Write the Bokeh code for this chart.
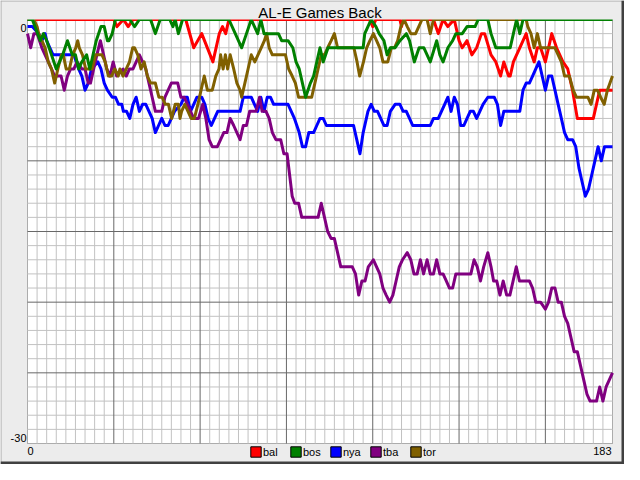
import numpy as np
from bokeh.plotting import figure
from bokeh.models import Range1d, Label, Legend, LegendItem, BoxAnnotation
from bokeh.embed import file_html
from bokeh.resources import INLINE

# ---------------- data (games back) ----------------
teams = ["bal", "bos", "nya", "tba", "tor"]
colors = ["#ff0000", "#008000", "#0000ff", "#800080", "#806000"]
x_start, x_end = 0, 183
y_low, y_high = -30, 0
title_text = "AL-E Games Back"

bal_x = [0, 27, 28, 30, 31.5, 33, 49.5, 52, 54.5, 58, 60, 61, 62, 63, 107, 108, 109, 116.5, 117, 117.5,
         127, 128.5, 130, 131.5, 133.5, 135, 136, 137.5, 139, 140.5, 142, 143, 145, 146.5, 148, 149, 150.5,
         151, 152, 154, 156, 157, 158.5, 159.5, 160.5, 162, 164, 165.5, 167.5, 169, 170.5, 172, 177, 179, 183]
bal_gb = [0, 0, 0.5, 0, 0.5, 0, 0, 2, 1, 3, 1, 0.5, 1, 0, 0, 0.5, 0, 0, 0.5, 0,
          0, 1, 0, 0.5, 0, 1.5, 2, 1.5, 2.5, 2, 1, 1, 2.5, 3, 4, 3, 4,
          4, 3, 2, 1, 2, 3, 2, 2, 3, 1, 2, 3, 3.5, 5, 7, 7, 5, 5]

bos_x = [0, 1.5, 4, 5, 6, 7.5, 9, 10, 11, 12.5, 14, 15, 16, 17, 18.5, 19.5, 20.5, 21.5, 23, 24,
         25, 25.5, 26.5, 27.5, 32, 33.5, 35, 38.5, 40, 41.5, 44.5, 45.5, 46.2, 47.2, 48.5, 63, 65, 67, 68.5, 70,
         71, 72, 73, 74, 75.5, 78.5, 79.5, 81.5, 83, 84, 85, 86, 87, 88.5, 89.5, 90.5, 91.5, 92.5, 94, 105,
         105.5, 106.5, 107.5, 109, 110, 111.5, 112.5, 113.5, 115, 116.5, 118.5, 119.5, 121, 122.5, 124,
         126, 128, 129, 130, 131.5, 133, 134, 136, 137.5, 140, 141, 144, 145, 146.5, 151, 152, 153, 154, 155, 183]
bos_gb = [0, 0, 1.5, 1, 1.5, 2.5, 3.5, 3, 2.5, 1.5, 2.5, 2.5, 3.5, 3, 2.5, 3.5, 2.5, 1.5, 0.5, 0.5,
          1.5, 1.5, 1, 0, 0, 0.5, 0, 0, 1, 0, 0, 0.5, 0, 1, 0, 0, 1, 2, 1, 0,
          0.5, 1, 0, 1, 1, 1, 1.5, 1.5, 2, 3, 3.5, 4.5, 5.5, 4.5, 4, 3, 2, 3, 2, 2,
          1, 0.5, 0, 0.5, 1, 1.5, 2.5, 2, 2, 1.5, 1, 1.5, 3, 2, 2,
          3, 1.5, 2.5, 3, 2, 1.5, 1, 1, 0.5, 0.5, 0, 0, 1, 2, 2, 1, 0, 1, 0, 0]

nya_x = [0, 1.5, 3.5, 4.5, 5.5, 6, 7, 8, 14.5, 16, 17, 18, 19, 20, 22, 23, 24, 25, 26.5, 27.5,
         28.5, 29.5, 30, 31, 32, 33, 34, 35, 36, 37, 38, 39, 40, 41, 42, 43, 44, 45, 46, 48,
         49, 50, 51, 52, 53, 54.5, 55.5, 56.5, 57.5, 58.5, 59.5, 66.5, 67.5, 70, 71, 72, 73, 74, 75, 76,
         77, 78, 81.5, 82.5, 83.5, 85, 86, 87, 88, 89.5, 90.5, 91.5, 92.5, 93.5, 94.5, 102, 103, 104, 105, 106.5,
         107.5, 108.5, 109.5, 110.5, 111.5, 112.5, 113.5, 115, 116.5, 117.5, 118.5, 119.5, 120.5, 126, 127,
         128.5, 129.5, 130.5, 131.5, 132.5, 133.5, 134.5, 135.5, 136.5, 137.5, 138.5, 139.5, 140.5, 141.5, 142.5,
         144, 146, 147, 148, 149, 154, 155, 156, 157, 158, 159, 160, 161, 162, 163, 164, 165, 166, 167, 168,
         169, 170.5, 171.5, 172.5, 173.5, 174.5, 175.5, 176.5, 177.5, 178.5, 179.5, 180.5, 181.5, 183]
nya_gb = [0.5, 0.5, 1, 1.5, 1, 1.5, 2, 2.5, 2.5, 3.5, 4, 5, 4.5, 3.5, 3, 3.5, 4.5, 5, 5.5, 5.5,
          6, 6, 6.5, 6.5, 7, 6, 5.5, 6.5, 6, 6, 6.5, 7, 8, 7.5, 7, 7.5, 7.5, 7, 6.5, 6,
          5.5, 5.5, 6.5, 6, 5.5, 5.5, 6, 7, 7.5, 7, 6.5, 6.5, 5.5, 5.5, 6, 6.5, 5.5, 6.5, 5.5, 5.5,
          6, 6, 6, 6.5, 7, 8, 9, 9, 8, 8, 7.5, 7, 7, 7.5, 7.5, 7.5, 8.5, 9.5, 8, 6.5,
          6, 6.5, 6.5, 7, 7.5, 7.5, 6.5, 6, 6, 6.5, 6.5, 7, 7.5, 7.5, 7,
          7, 6.5, 6, 5.5, 6.5, 5.5, 6, 7.5, 7.5, 7, 6.5, 6.5, 7, 6.5, 6,
          5.5, 5.5, 6, 7.5, 6.5, 6.5, 5, 4.5, 4.5, 4, 3.5, 3, 4, 5, 4, 4, 5, 6, 7, 8,
          8.5, 8.5, 9, 10.5, 11.5, 12.5, 12, 11, 10, 9, 10, 9, 9, 9]

tba_x = [0, 1, 2, 3, 4.5, 5.5, 6.5, 7.5, 8.5, 10.5, 11.5, 12.5, 13.5, 14.5, 15.5, 17, 18, 19, 19.7, 20.7,
         21.7, 22.8, 23.8, 24.8, 25.8, 26.8, 27.9, 29.9, 30.9, 31.9, 33, 34, 35, 36, 37, 38, 39, 40, 41, 42,
         43, 44, 45, 46, 47, 48, 49, 50, 51, 52, 53.5, 54.8, 55.8, 56.8, 57.8, 59.4, 60.4, 61.4, 62.4, 63.4,
         64.5, 65.5, 66.5, 67.5, 68.5, 69.5, 71.5, 72.6, 73.4, 74.6, 75.6, 76.6, 77.7, 79.2, 80.2, 81.2, 82, 82.8, 83.6, 84.8,
         85.8, 90.9, 91.9, 92.9, 93.9, 95, 96, 97, 98, 101.6, 102.6, 103.6, 104.6, 105.6, 106.6, 108.2, 109.2, 110.2, 111.2, 112.2,
         113.3, 114.3, 115.3, 116.3, 117.3, 118.8, 119.9, 120.9, 121.9, 122.9, 123.9, 125, 126, 127, 128, 129, 130, 131, 132, 133,
         134, 138.7, 139.7, 140.7, 141.7, 142.7, 144, 145, 145.8, 146.8, 147.8, 148.8, 149.9, 150.9, 151.9, 152.9, 153.9, 157, 158, 159,
         160.5, 162, 163, 164, 165, 166, 167, 168, 169, 170, 171, 172, 173, 174, 175, 176, 178, 179, 180, 181, 183]
tba_gb = [1, 2, 1, 1, 2, 2.5, 3, 3.5, 4, 4, 5, 4, 3.5, 3.5, 3, 3.5, 3.5, 4.5, 4.5, 3.5,
          2.5, 1.5, 2.5, 3.5, 4, 3, 4, 3.5, 4, 3.5, 3.5, 3, 2.5, 3, 3.5, 4.5, 5.5, 6.5, 6.5, 6.5,
          5.5, 5, 4.5, 4.5, 4.5, 5.5, 5.5, 6, 6.5, 7, 7, 6, 7, 8.5, 9, 9, 8.5, 8, 8, 7,
          7.5, 8, 8.5, 7.5, 7.5, 6.5, 6.5, 5.5, 6.5, 6.5, 7, 8, 8.5, 8.5, 9.5, 9.5, 11, 12.5, 13, 13,
          14, 14, 13, 14, 15, 15.5, 15.5, 16.5, 17.5, 17.5, 18, 19.5, 18.5, 18.5, 17.5, 17, 17.5, 18, 19, 19.5,
          20, 19.5, 18.5, 17.5, 17, 16.5, 17, 18, 18, 17, 18, 17, 18, 18, 17, 18, 18, 18.5, 19, 19,
          18, 18, 17, 17.5, 18.5, 17.5, 16.5, 17.5, 18.5, 18.5, 19.5, 18.5, 19.5, 19.5, 18.5, 17.5, 18.5, 18.5, 19, 20,
          20, 20.5, 20, 19, 19, 20, 20, 21, 21.5, 22.5, 23.5, 23.5, 24.5, 25.5, 26.5, 27, 27, 26, 27, 26, 25]

tor_x = [0, 2, 3, 3.5, 4.5, 5.5, 6.5, 7.5, 8.5, 9.5, 10.6, 11.2, 12.1, 13.1, 14.1, 15.1, 15.7, 16.2, 17.2, 18.2,
         20.2, 21.3, 23.3, 24.3, 25.3, 26.3, 27.3, 28.4, 28.9, 29.9, 30.9, 31.9, 32.9, 33.5, 34.5, 35.5, 36.5, 37.5, 38.5, 40,
         41.1, 42.1, 43.1, 44.1, 45.1, 46.2, 47.2, 47.7, 48.2, 49.2, 50.2, 51.2, 52.2, 53.3, 54.3, 55.3, 56.3, 57.8, 58.9, 59.9,
         60.4, 61.2, 61.9, 62.6, 63.4, 64.5, 65.5, 66.5, 67, 68, 69, 70, 71.1, 72.1, 73.1, 74.1, 74.8, 75.6, 76.6, 80.7,
         81.7, 82.8, 83.8, 84.8, 88.9, 89.9, 90.9, 91.9, 92.9, 93.9, 95, 96, 97, 102.1, 103.1, 103.9, 105.1, 106.1, 107.1, 108.2,
         109.2, 110.2, 111.2, 112.7, 113.8, 114.8, 115.8, 116.8, 117.8, 118.8, 119.9, 121.4, 122.4, 123.4, 125, 126, 127, 156, 156.5, 157.5,
         158.5, 159.5, 160.5, 165, 166, 167, 168, 169.5, 170.7, 171.7, 175.3, 176.3, 177.3, 178.3, 179.3, 180.4, 181.4, 183]
tor_gb = [0, 0, 0.5, 1, 1.5, 2, 3, 3.5, 4.5, 3.5, 2.5, 2.5, 3.5, 3.5, 2.5, 2, 1.5, 2, 2.5, 3.5,
          3.5, 2.5, 2.5, 3, 4, 4, 3.5, 4, 3.5, 4, 3.5, 3, 2, 2, 2.5, 3.5, 3, 4, 4.5, 4.5,
          5.5, 5.5, 6, 6, 7, 6, 6, 7, 6.5, 6, 6.5, 7, 7, 6, 5, 4, 5, 5, 4, 3.5,
          2.5, 3.5, 2.5, 3.5, 2.5, 3.5, 4.5, 5, 5.5, 4.5, 3.5, 2.5, 3, 2.5, 2, 1.5, 1, 2, 2.5, 2.5,
          3.5, 4, 4.5, 5.5, 5.5, 4.5, 3.5, 2.5, 2.5, 2, 1.5, 1, 2, 2, 3, 4, 3, 2, 1.5, 1,
          1.5, 2, 3, 3, 2, 2, 1.5, 0.5, 0, 0.5, 1, 1, 0.5, 0, 0, 1, 0, 0, 0.5, 1,
          2, 1, 2, 2, 2.5, 3, 4, 4, 5, 5.5, 5.5, 6, 5, 5, 5.5, 6, 5, 4]

series = {
    "bal": (bal_x, bal_gb),
    "bos": (bos_x, bos_gb),
    "nya": (nya_x, nya_gb),
    "tba": (tba_x, tba_gb),
    "tor": (tor_x, tor_gb),
}

# ---------------- layout (pixels) ----------------
W, H = 624, 464
L, R, T, B = 27, 612, 19, 443          # plot area inside the canvas
sx = (R - L) / (x_end - x_start)
sy = (B - T) / (y_high - y_low)

def px2x(px):
    return x_start + (px - L) / sx

def px2y(py):
    return y_high - (py - T) / sy

BG = "#ececec"
FONT = "Liberation Sans"

p = figure(width=W, height=H, output_backend="svg", toolbar_location=None, title=None,
           x_range=Range1d(px2x(0), px2x(W)), y_range=Range1d(px2y(H), px2y(0)),
           x_axis_location=None, y_axis_location=None,
           min_border_left=0, min_border_right=0, min_border_top=0, min_border_bottom=0)
p.background_fill_color = BG
p.border_fill_color = BG
p.outline_line_color = None
for g in list(p.grid):
    g.visible = False

# white plotting area with black frame
p.add_layout(BoxAnnotation(left=x_start, right=x_end, bottom=y_low, top=y_high,
                           fill_color="white", fill_alpha=1, line_color="black", line_width=1,
                           level="underlay"))

# grid
minor_x = [v for v in range(x_start + 3, x_end, 3) if v % 27]
major_x = list(range(x_start + 27, x_end, 27))
minor_y = [v for v in range(y_low + 1, y_high) if v % 5]
major_y = list(range(y_low + 5, y_high, 5))
p.segment(x0=minor_x, y0=[y_low] * len(minor_x), x1=minor_x, y1=[y_high] * len(minor_x),
          line_color="#c2c2c2", line_width=1)
p.segment(x0=[x_start] * len(minor_y), y0=minor_y, x1=[x_end] * len(minor_y), y1=minor_y,
          line_color="#c2c2c2", line_width=1)
p.segment(x0=major_x, y0=[y_low] * len(major_x), x1=major_x, y1=[y_high] * len(major_x),
          line_color="#686868", line_width=1)
p.segment(x0=[x_start] * len(major_y), y0=major_y, x1=[x_end] * len(major_y), y1=major_y,
          line_color="#686868", line_width=1)

# series
col = dict(zip(teams, colors))
for t in ["bal", "nya", "tba", "tor", "bos"]:
    xs, gb = series[t]
    assert len(xs) == len(gb), t
    p.line(xs, -np.array(gb, dtype=float), line_color=col[t], line_width=3, line_join="round")

# clip the lines at the top edge of the plotting area, and the window border
p.add_layout(BoxAnnotation(left=px2x(0), right=px2x(W), bottom=y_high, top=px2y(0),
                           fill_color=BG, fill_alpha=1, line_color=None))
p.add_layout(BoxAnnotation(left=px2x(0), right=px2x(W), bottom=px2y(1), top=px2y(0),
                           fill_color="#a8a8a8", fill_alpha=1, line_color=None))
p.add_layout(BoxAnnotation(left=px2x(0), right=px2x(1), bottom=px2y(H), top=px2y(0),
                           fill_color="#a8a8a8", fill_alpha=1, line_color=None))
p.add_layout(BoxAnnotation(left=px2x(W - 3), right=px2x(W), bottom=px2y(H), top=px2y(0),
                           fill_color="#404040", fill_alpha=1, line_color=None))
p.add_layout(BoxAnnotation(left=px2x(0), right=px2x(W), bottom=px2y(H), top=px2y(H - 3),
                           fill_color="#404040", fill_alpha=1, line_color=None))

# legend (square swatches); one NaN row so the swatch renderers have a data row but draw nothing
items = []
for t in teams:
    r = p.quad(left=[np.nan], right=[np.nan], top=[np.nan], bottom=[np.nan],
               fill_color=col[t], line_color="black", line_width=1)
    items.append(LegendItem(label=t, renderers=[r]))
legend = Legend(items=items, orientation="horizontal", location=(249, 6),
                background_fill_alpha=0, border_line_color=None,
                glyph_width=13, glyph_height=13, label_standoff=1, spacing=0,
                padding=0, margin=0, label_width=26, label_height=11,
                label_text_font=FONT, label_text_font_size="11px", label_text_color="black")
p.add_layout(legend)

# texts
p.add_layout(Label(x=(x_start + x_end) / 2, y=y_high, text=title_text, text_align="center",
                   text_baseline="alphabetic", y_offset=7, text_font=FONT, text_font_size="15px",
                   text_color="black"))
lab = dict(text_font=FONT, text_font_size="11px", text_color="black", text_baseline="alphabetic")
p.add_layout(Label(x=x_start, y=y_high, text="0", text_align="right", x_offset=-1, y_offset=-8, **lab))
p.add_layout(Label(x=x_start, y=y_low, text="-30", text_align="right", x_offset=-1, y_offset=6, **lab))
p.add_layout(Label(x=x_start, y=y_low, text="0", text_align="left", x_offset=0, y_offset=-7, **lab))
p.add_layout(Label(x=x_end, y=y_low, text="183", text_align="right", x_offset=-1, y_offset=-7, **lab))

open("out.html", "w").write(file_html(p, INLINE))
